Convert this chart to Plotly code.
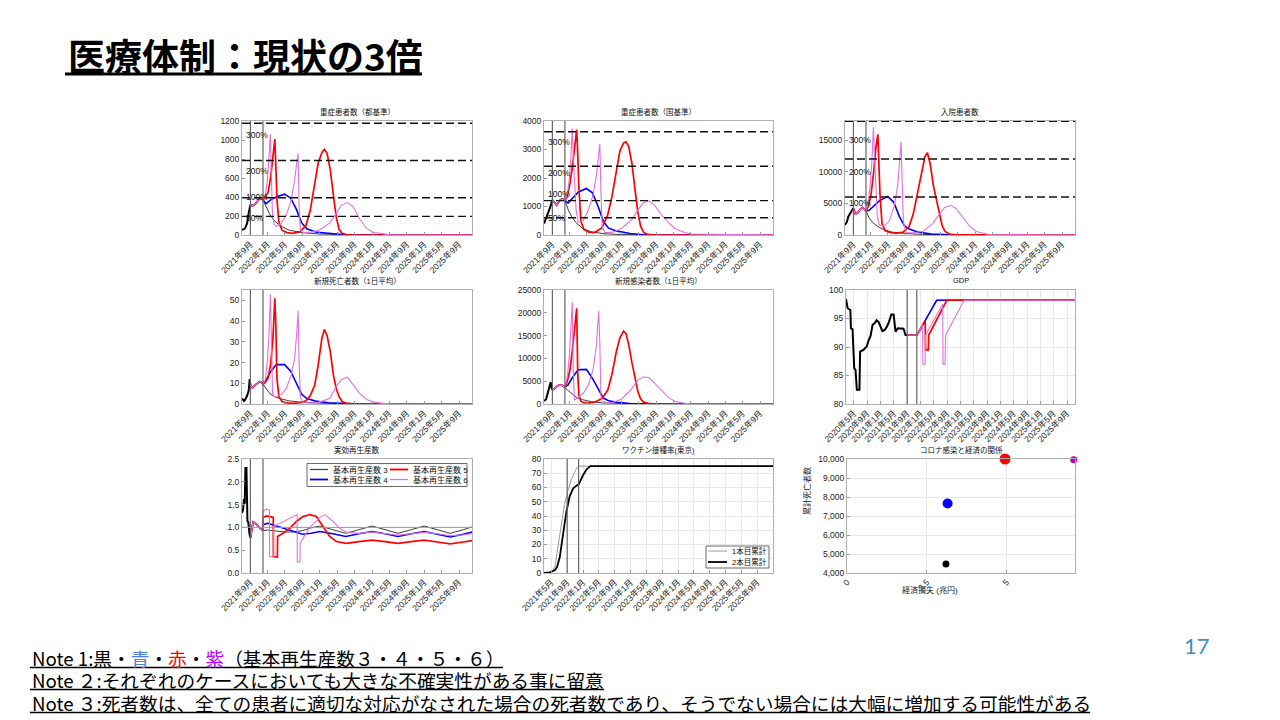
import plotly.graph_objects as go

W, H = 1280, 720
FONT = "Liberation Sans, Noto Sans CJK JP, sans-serif"
JP = "Noto Sans CJK JP, sans-serif"

# ---------------- tick labels ----------------
MAIN_TICK_DATES = ["2021-09-01", "2022-01-01", "2022-05-01", "2022-09-01", "2023-01-01", "2023-05-01",
                   "2023-09-01", "2024-01-01", "2024-05-01", "2024-09-01", "2025-01-01", "2025-05-01", "2025-09-01"]
MAIN_TICK_TEXT = ["2021年9月", "2022年1月", "2022年5月", "2022年9月", "2023年1月", "2023年5月",
                  "2023年9月", "2024年1月", "2024年5月", "2024年9月", "2025年1月", "2025年5月", "2025年9月"]
GDP_TICK_DATES = ["2020-05-01", "2020-09-01", "2021-01-01", "2021-05-01", "2021-09-01", "2022-01-01",
                  "2022-05-01", "2022-09-01", "2023-01-01", "2023-05-01", "2023-09-01", "2024-01-01",
                  "2024-05-01", "2024-09-01", "2025-01-01", "2025-05-01", "2025-09-01"]
GDP_TICK_TEXT = ["2020年5月", "2020年9月", "2021年1月", "2021年5月", "2021年9月", "2022年1月",
                 "2022年5月", "2022年9月", "2023年1月", "2023年5月", "2023年9月", "2024年1月",
                 "2024年5月", "2024年9月", "2025年1月", "2025年5月", "2025年9月"]
VAC_TICK_DATES = ["2021-05-01", "2021-09-01", "2022-01-01", "2022-05-01", "2022-09-01", "2023-01-01",
                  "2023-05-01", "2023-09-01", "2024-01-01", "2024-05-01", "2024-09-01", "2025-01-01",
                  "2025-05-01", "2025-09-01"]
VAC_TICK_TEXT = ["2021年5月", "2021年9月", "2022年1月", "2022年5月", "2022年9月", "2023年1月",
                 "2023年5月", "2023年9月", "2024年1月", "2024年5月", "2024年9月", "2025年1月",
                 "2025年5月", "2025年9月"]

SERIES_NAMES = ["基本再生産数 3", "基本再生産数 4", "基本再生産数 5", "基本再生産数 6"]
VLINE_DATES = ["2021-09-01", "2021-11-28"]

# ---------------- epidemic curves: dates ----------------
HIST_DATES = ["2021-07-04", "2021-07-18", "2021-07-27", "2021-08-09", "2021-08-20", "2021-08-27", "2021-09-01"]
COMMON_DATES = ["2021-09-01", "2021-09-15", "2021-10-01", "2021-10-20", "2021-11-05", "2021-11-18", "2021-11-28"]
R3_DATES = ["2021-11-28", "2021-12-20", "2022-01-15", "2022-02-15", "2022-04-01", "2022-06-01", "2022-09-01",
            "2023-01-01", "2023-06-01", "2024-01-01", "2025-12-31"]
R4_DATES = ["2021-11-28", "2021-12-20", "2022-01-20", "2022-03-01", "2022-04-28", "2022-06-10", "2022-07-20",
            "2022-08-25", "2022-10-01", "2022-12-01", "2023-03-01", "2023-06-01", "2023-09-01", "2025-12-31"]
R5_DATES = ["2021-11-28", "2021-12-15", "2022-01-03", "2022-01-20", "2022-02-05", "2022-02-19", "2022-02-26",
            "2022-03-06", "2022-03-20", "2022-04-10", "2022-05-15", "2022-06-25", "2022-08-15", "2022-09-25",
            "2022-10-25", "2022-11-25", "2022-12-20", "2023-01-15", "2023-02-01", "2023-02-20", "2023-03-15",
            "2023-04-05", "2023-04-25", "2023-05-15", "2023-06-05", "2023-07-05", "2023-08-15", "2025-12-31"]
R6_DATES = ["2021-11-28", "2021-12-15", "2021-12-28", "2022-01-08", "2022-01-19", "2022-01-27", "2022-02-03",
            "2022-02-15", "2022-03-01", "2022-04-05", "2022-05-10", "2022-06-14", "2022-07-08", "2022-07-24",
            "2022-08-01", "2022-08-08", "2022-08-17", "2022-09-05", "2022-11-01", "2023-01-01", "2023-03-10",
            "2023-04-26", "2023-06-01", "2023-07-13", "2023-08-21", "2023-10-07", "2023-11-24", "2024-01-10",
            "2024-03-19", "2024-05-05", "2025-12-31"]

# 重症患者数（都基準）
SEV_T_HIST = [55, 62, 75, 125, 230, 280, 318]
SEV_T_COMMON = [318, 308, 320, 360, 385, 378, 370]
SEV_T_R3 = [370, 300, 215, 150, 95, 50, 25, 10, 3, 0, 0]
SEV_T_R4 = [370, 330, 370, 400, 430, 390, 270, 130, 65, 32, 15, 5, 1, 0]
SEV_T_R5 = [370, 400, 450, 600, 820, 1010, 720, 370, 130, 50, 25, 18, 35, 100, 260, 540, 760, 870, 900, 860,
            680, 420, 190, 60, 18, 5, 0, 0]
SEV_T_R6 = [370, 430, 560, 800, 1060, 550, 200, 110, 90, 125, 210, 370, 580, 780, 860, 300, 50, 25, 30, 55,
            125, 230, 315, 342, 300, 165, 70, 28, 8, 2, 0]

# 重症患者数（国基準）
SEV_N_HIST = [400, 560, 700, 870, 1020, 1130, 1228]
SEV_N_COMMON = [1228, 1150, 1040, 1200, 1260, 1250, 1220]
SEV_N_R3 = [1220, 900, 640, 430, 230, 110, 45, 15, 4, 0, 0]
SEV_N_R4 = [1220, 1120, 1300, 1500, 1630, 1480, 1000, 480, 240, 135, 50, 10, 2, 0]
SEV_N_R5 = [1220, 1350, 1820, 2400, 3100, 3700, 2900, 1700, 500, 200, 100, 85, 250, 700, 1350, 2300, 2950,
            3230, 3270, 3100, 2500, 1600, 800, 300, 90, 20, 0, 0]
SEV_N_R6 = [1220, 1450, 1900, 2600, 3740, 2600, 1800, 880, 450, 500, 850, 1400, 2100, 2900, 3200, 1600, 300,
            85, 100, 230, 520, 880, 1120, 1200, 1050, 720, 450, 230, 90, 35, 0]

# 入院患者数
HOSP_HIST = [1580, 2100, 2900, 3500, 3950, 4100, 4210]
HOSP_COMMON = [4210, 3300, 3500, 4100, 4350, 4100, 3800]
HOSP_R3 = [3800, 2700, 1950, 1400, 850, 450, 230, 90, 25, 0, 0]
HOSP_R4 = [3800, 3900, 4500, 5400, 6100, 5200, 2900, 1450, 900, 450, 150, 40, 5, 0]
HOSP_R5 = [3800, 4600, 6500, 9800, 13800, 15900, 12000, 6500, 1800, 700, 400, 270, 450, 1300, 3300, 6800,
           9500, 12400, 13000, 11300, 7800, 5500, 3200, 1500, 550, 150, 10, 0]
HOSP_R6 = [3800, 5500, 8000, 11500, 17000, 12500, 9500, 3000, 1600, 1400, 2200, 4600, 7800, 13000, 14700,
           8500, 2000, 370, 350, 600, 1800, 3300, 4300, 4680, 4200, 2800, 1400, 550, 150, 40, 0]

# 新規死亡者数（1日平均）
DEATH_HIST = [2.7, 1.5, 2.2, 4, 6.5, 12, 9.5]
DEATH_COMMON = [9.5, 7.8, 9, 10.2, 10.8, 10.5, 9.5]
DEATH_R3 = [9.5, 7, 5, 3.6, 2.5, 1.5, 0.8, 0.4, 0.1, 0, 0]
DEATH_R4 = [9.5, 11.5, 15.5, 19, 19, 15.8, 10, 4.8, 2.6, 1.4, 0.6, 0.25, 0.05, 0]
DEATH_R5 = [9.5, 10.5, 12.5, 19, 31, 51, 38, 12, 3.5, 1.2, 0.5, 0.3, 0.6, 1.5, 4, 9, 19, 32, 36, 33, 25, 14,
            7.5, 3.5, 1.2, 0.3, 0.05, 0]
DEATH_R6 = [9.5, 12, 20, 32, 53, 28, 5, 3.5, 3.5, 4.5, 7.5, 14, 22, 36, 45, 20, 3, 0.7, 0.5, 0.9, 2.8, 8.5,
            11.8, 12.9, 9.5, 5, 2.2, 0.9, 0.3, 0.1, 0]

# 新規感染者数（1日平均）
CASE_HIST = [650, 1000, 2000, 3900, 4800, 3500, 3070]
CASE_COMMON = [3070, 3300, 3800, 4200, 4150, 3800, 3700]
CASE_R3 = [3700, 2900, 2200, 1500, 950, 500, 220, 80, 20, 0, 0]
CASE_R4 = [3700, 4200, 5800, 7500, 7600, 5600, 3200, 1300, 700, 350, 120, 30, 5, 0]
CASE_R5 = [3700, 5000, 7500, 12000, 17500, 21000, 7000, 2000, 600, 280, 220, 400, 1200, 3000, 6500, 11500,
           14500, 16000, 15500, 13000, 9000, 5500, 2800, 1100, 400, 150, 20, 0]
CASE_R6 = [3700, 6000, 10000, 16000, 22300, 6000, 900, 1100, 1500, 2300, 4000, 7500, 13000, 20400, 13000,
           2000, 300, 150, 350, 1100, 3200, 5300, 5900, 5800, 4600, 3000, 1500, 600, 150, 40, 0]

# bed capacity reference lines
SEV_T_LEVELS = [196, 392, 784, 1176]
SEV_N_LEVELS = [604, 1207, 2414, 3621]
HOSP_LEVELS = [6000, 12000, 17950]
SEV_T_LABELS = [("300%", 1050), ("200%", 670), ("100%", 405), ("50%", 183)]
SEV_N_LABELS = [("300%", 3250), ("200%", 2165), ("100%", 1430), ("50%", 608)]
HOSP_LABELS = [("300%", 15000), ("200%", 10000), ("100%", 5100)]

# GDP
GDP_HIST_DATES = ["2020-02-20", "2020-03-06", "2020-03-31", "2020-04-05", "2020-04-20", "2020-05-05",
                  "2020-05-17", "2020-05-29", "2020-06-22", "2020-06-28", "2020-07-28", "2020-08-27",
                  "2020-09-11", "2020-10-02", "2020-10-20", "2020-11-10", "2020-11-25", "2020-12-13",
                  "2020-12-25", "2021-01-18", "2021-02-08", "2021-03-01", "2021-03-19", "2021-04-09",
                  "2021-04-30", "2021-05-18", "2021-06-08", "2021-07-30", "2021-08-17", "2021-09-01"]
GDP_HIST = [98.4, 96.8, 96.5, 93.3, 93.1, 86.3, 86.0, 82.5, 82.5, 89.2, 89.5, 90.1, 91.0, 92.0, 93.9, 94.2,
            94.7, 94.4, 93.9, 92.8, 93.0, 93.6, 94.4, 95.7, 95.7, 92.7, 93.3, 93.2, 92.1, 92.1]
GDP_COMMON_DATES = ["2021-09-01", "2021-11-29"]
GDP_COMMON = [92.1, 92.1]
GDP_R3_DATES = ["2021-11-29", "2022-05-29", "2025-11-13"]
GDP_R3 = [92.1, 98.2, 98.2]
GDP_R4_DATES = ["2021-11-29", "2022-05-29", "2025-11-13"]
GDP_R4 = [92.1, 98.2, 98.2]
GDP_R5_DATES = ["2021-11-29", "2022-02-13", "2022-02-16", "2022-03-13", "2022-03-17", "2022-08-29", "2025-11-13"]
GDP_R5 = [92.1, 94.6, 89.5, 89.5, 92.1, 98.2, 98.2]
GDP_R6_DATES = ["2021-11-29", "2022-01-20", "2022-01-22", "2022-02-12", "2022-02-16", "2022-07-23",
                "2022-07-26", "2022-08-13", "2022-08-18", "2023-02-04", "2025-11-13"]
GDP_R6 = [92.1, 93.9, 87.0, 87.0, 92.1, 97.5, 87.0, 87.0, 92.1, 98.2, 98.2]

# 実効再生産数
RT_HIST_DATES = ["2021-07-04", "2021-07-11", "2021-07-18", "2021-07-23", "2021-07-28", "2021-08-04",
                 "2021-08-11", "2021-08-18", "2021-08-25", "2021-09-01"]
RT_HIST = [1.32, 1.38, 1.62, 1.52, 2.3, 2.3, 1.15, 1.1, 0.87, 0.77]
RT_COMMON_DATES = ["2021-09-01", "2021-09-12", "2021-09-20", "2021-10-10", "2021-11-01", "2021-11-28"]
RT_COMMON = [0.77, 1.0, 1.12, 1.08, 1.0, 0.93]
RT_SEASON_DATES = ["2021-11-28", "2022-01-01", "2022-03-01", "2022-05-01", "2022-07-01", "2022-09-01",
                   "2022-11-01", "2023-01-01", "2023-04-01", "2023-07-01", "2023-10-01", "2024-01-01",
                   "2024-04-01", "2024-07-01", "2024-10-01", "2025-01-01", "2025-04-01", "2025-07-01",
                   "2025-10-01", "2025-12-01"]
RT_R3 = [0.93, 0.94, 0.92, 0.9, 0.9, 0.93, 0.99, 1.03, 0.95, 0.87, 0.95, 1.03, 0.95, 0.87, 0.95, 1.03, 0.95,
         0.87, 0.95, 1.01]
RT_R4 = [1.06, 1.09, 1.03, 0.98, 0.92, 0.85, 0.87, 0.91, 0.86, 0.8, 0.86, 0.91, 0.86, 0.8, 0.86, 0.91, 0.85,
         0.79, 0.85, 0.9]
RT_R5_DATES = ["2021-11-28", "2021-12-25", "2022-01-25", "2022-02-08", "2022-02-09", "2022-03-09", "2022-03-10",
               "2022-04-17", "2022-06-03", "2022-07-20", "2022-09-05", "2022-10-22", "2022-12-07", "2023-01-24",
               "2023-03-10", "2023-04-26", "2023-07-05", "2023-10-01", "2024-01-01", "2024-04-01", "2024-07-01",
               "2024-10-01", "2025-01-01", "2025-04-01", "2025-07-01", "2025-10-01", "2025-12-01"]
RT_R5 = [1.22, 1.25, 1.23, 1.22, 0.36, 0.35, 0.8, 0.87, 0.98, 1.13, 1.24, 1.28, 1.24, 1.02, 0.8, 0.69, 0.65,
         0.69, 0.72, 0.69, 0.65, 0.69, 0.72, 0.68, 0.64, 0.68, 0.71]
RT_R6_DATES = ["2021-11-28", "2021-12-21", "2022-01-12", "2022-01-13", "2022-02-08", "2022-02-09", "2022-04-15",
               "2022-07-25", "2022-07-26", "2022-08-14", "2022-08-15", "2022-10-22", "2023-01-01", "2023-02-06",
               "2023-04-03", "2023-05-19", "2023-07-05", "2023-10-01", "2024-01-01", "2024-04-01", "2024-07-01",
               "2024-10-01", "2025-01-01", "2025-04-01", "2025-07-01", "2025-10-01", "2025-12-01"]
RT_R6 = [1.35, 1.4, 1.38, 0.36, 0.35, 1.02, 1.12, 1.28, 0.24, 0.24, 0.66, 1.0, 1.22, 1.28, 1.13, 0.98, 0.9,
         0.87, 0.9, 0.86, 0.83, 0.86, 0.89, 0.86, 0.82, 0.84, 0.86]

# ワクチン接種率(東京)
VAC1_DATES = ["2021-03-07", "2021-04-25", "2021-05-15", "2021-05-29", "2021-06-22", "2021-07-17", "2021-08-11",
              "2021-09-08", "2021-10-04", "2021-10-29", "2021-11-16", "2021-11-30", "2025-12-31"]
VAC1 = [0, 0.5, 2, 4.2, 18, 35, 48, 58, 66, 71, 74, 75, 75]
VAC2_DATES = ["2021-03-07", "2021-04-20", "2021-05-29", "2021-06-15", "2021-07-06", "2021-07-31", "2021-08-26",
              "2021-09-21", "2021-10-17", "2021-11-12", "2021-11-30", "2022-01-02", "2022-01-28", "2022-02-27",
              "2025-12-31"]
VAC2 = [0, 0.5, 1.9, 4.2, 11, 26.5, 43, 54, 59.4, 61.3, 62.4, 68.8, 72.8, 75, 75]
VAC_NAMES = ["1本目累計", "2本目累計"]

# コロナ感染と経済の関係
ECON_LOSS = [3.1, 3.15, 4.95, 7.1]
CUM_DEATHS = [4480, 7660, 10000, 9960]

TITLES = ["重症患者数（都基準）", "重症患者数（国基準）", "入院患者数", "新規死亡者数（1日平均）",
          "新規感染者数（1日平均）", "GDP", "実効再生産数", "ワクチン接種率(東京)", "コロナ感染と経済の関係"]

# ---------------- styling ----------------
C_HIST = "#000000"
COLORS = ["#3c3c3c", "#0000ff", "#ff0000", "#e070e0"]
WIDTHS = [1.0, 1.6, 1.7, 1.1]
DOM = {1: (242, 472, 121, 235), 2: (544, 773, 121, 235), 3: (845, 1075, 121, 235),
       4: (242, 472, 290, 404), 5: (544, 773, 290, 404), 6: (846, 1075, 290, 404),
       7: (242, 472, 459, 573), 8: (544, 773, 459, 573), 9: (847, 1075, 459, 573)}
MAIN_RANGE = ["2021-07-04", "2025-12-01"]
GDP_RANGE = ["2020-02-20", "2025-11-13"]
VAC_RANGE = ["2021-03-07", "2025-12-31"]

fig = go.Figure()


def names(i):
    return ("x" if i == 1 else f"x{i}", "y" if i == 1 else f"y{i}")


def add_line(i, x, y, color, width, name):
    xa, ya = names(i)
    fig.add_trace(go.Scatter(x=x, y=y, mode="lines", name=name, line=dict(color=color, width=width),
                             xaxis=xa, yaxis=ya, showlegend=False))


def add_scenarios(i, hist_d, hist, com_d, com, scen):
    add_line(i, hist_d, hist, C_HIST, 2.0, "実績")
    for k, (d, v) in enumerate(scen):
        add_line(i, com_d + d, com + v, COLORS[k], WIDTHS[k], SERIES_NAMES[k])


add_scenarios(1, HIST_DATES, SEV_T_HIST, COMMON_DATES, SEV_T_COMMON,
              [(R3_DATES, SEV_T_R3), (R4_DATES, SEV_T_R4), (R5_DATES, SEV_T_R5), (R6_DATES, SEV_T_R6)])
add_scenarios(2, HIST_DATES, SEV_N_HIST, COMMON_DATES, SEV_N_COMMON,
              [(R3_DATES, SEV_N_R3), (R4_DATES, SEV_N_R4), (R5_DATES, SEV_N_R5), (R6_DATES, SEV_N_R6)])
add_scenarios(3, HIST_DATES, HOSP_HIST, COMMON_DATES, HOSP_COMMON,
              [(R3_DATES, HOSP_R3), (R4_DATES, HOSP_R4), (R5_DATES, HOSP_R5), (R6_DATES, HOSP_R6)])
add_scenarios(4, HIST_DATES, DEATH_HIST, COMMON_DATES, DEATH_COMMON,
              [(R3_DATES, DEATH_R3), (R4_DATES, DEATH_R4), (R5_DATES, DEATH_R5), (R6_DATES, DEATH_R6)])
add_scenarios(5, HIST_DATES, CASE_HIST, COMMON_DATES, CASE_COMMON,
              [(R3_DATES, CASE_R3), (R4_DATES, CASE_R4), (R5_DATES, CASE_R5), (R6_DATES, CASE_R6)])
add_scenarios(6, GDP_HIST_DATES, GDP_HIST, GDP_COMMON_DATES, GDP_COMMON,
              [(GDP_R3_DATES, GDP_R3), (GDP_R4_DATES, GDP_R4), (GDP_R5_DATES, GDP_R5), (GDP_R6_DATES, GDP_R6)])
add_scenarios(7, RT_HIST_DATES, RT_HIST, RT_COMMON_DATES, RT_COMMON,
              [(RT_SEASON_DATES, RT_R3), (RT_SEASON_DATES, RT_R4), (RT_R5_DATES, RT_R5), (RT_R6_DATES, RT_R6)])

add_line(8, VAC1_DATES, VAC1, "#9a9a9a", 1.0, VAC_NAMES[0])
add_line(8, VAC2_DATES, VAC2, "#000000", 1.8, VAC_NAMES[1])

fig.add_trace(go.Scatter(x=ECON_LOSS, y=CUM_DEATHS, mode="markers", name="累計死亡者数",
                         marker=dict(color=["#000000", "#0000ff", "#ff0000", "#c000c0"], size=[7, 10, 11, 7],
                                     opacity=1, line=dict(width=0)),
                         cliponaxis=False, xaxis="x9", yaxis="y9", showlegend=False))

# ---------------- axes ----------------
layout = {}
AX_COMMON = dict(ticks="inside", ticklen=3, tickcolor="#999", showline=True, linecolor="#b0b0b0",
                 linewidth=1, mirror=True, zeroline=False, gridcolor="#e8e8e8", automargin=False)


def set_x(i, rng, tv, tt, grid=False, typ="date", angle=-45):
    l, r, t, b = DOM[i]
    key = "xaxis" if i == 1 else f"xaxis{i}"
    layout[key] = dict(domain=[l / W, r / W], anchor=names(i)[1], type=typ, range=rng, tickmode="array",
                       tickvals=tv, ticktext=tt, tickangle=angle, tickfont=dict(size=8.5, color="#222"),
                       showgrid=grid, **AX_COMMON)


def set_y(i, rng, tv, grid=False, fmt="d"):
    l, r, t, b = DOM[i]
    key = "yaxis" if i == 1 else f"yaxis{i}"
    layout[key] = dict(domain=[1 - b / H, 1 - t / H], anchor=names(i)[0], range=rng, tickmode="array",
                       tickvals=tv, tickformat=fmt, tickfont=dict(size=8.5, color="#222"), showgrid=grid,
                       **AX_COMMON)


for i in (1, 2, 3, 4, 5, 7):
    set_x(i, MAIN_RANGE, MAIN_TICK_DATES, MAIN_TICK_TEXT)
set_x(6, GDP_RANGE, GDP_TICK_DATES, GDP_TICK_TEXT, grid=True)
set_x(8, VAC_RANGE, VAC_TICK_DATES, VAC_TICK_TEXT, grid=True)
set_x(9, [0, 7.14], [0, 2.5, 5], ["0", "2.5", "5"], grid=True, typ="linear")

set_y(1, [0, 1200], [0, 200, 400, 600, 800, 1000, 1200])
set_y(2, [0, 4000], [0, 1000, 2000, 3000, 4000])
set_y(3, [0, 18000], [0, 5000, 10000, 15000])
set_y(4, [0, 55], [0, 10, 20, 30, 40, 50])
set_y(5, [0, 25000], [0, 5000, 10000, 15000, 20000, 25000])
set_y(6, [80, 100], [80, 85, 90, 95, 100], grid=True)
set_y(7, [0, 2.5], [0, 0.5, 1, 1.5, 2, 2.5], fmt=".1f")
set_y(8, [0, 80], [0, 10, 20, 30, 40, 50, 60, 70, 80], grid=True)
set_y(9, [4000, 10000], [4000, 5000, 6000, 7000, 8000, 9000, 10000], grid=True, fmt=",d")

shapes = []
ann = []

# vertical markers
for i in (1, 2, 3, 4, 5, 6, 7, 8):
    xa, ya = names(i)
    for d in VLINE_DATES:
        shapes.append(dict(type="line", xref=xa, yref=f"{ya} domain", x0=d, x1=d, y0=0, y1=1,
                           line=dict(color="#666", width=1.2)))

# capacity dashed lines + labels
for i, levels, labels in ((1, SEV_T_LEVELS, SEV_T_LABELS), (2, SEV_N_LEVELS, SEV_N_LABELS),
                          (3, HOSP_LEVELS, HOSP_LABELS)):
    xa, ya = names(i)
    for lv in levels:
        shapes.append(dict(type="line", xref=f"{xa} domain", yref=ya, x0=0, x1=1, y0=lv, y1=lv,
                           line=dict(color="#111", width=1.4, dash="8px,4px")))
    for txt, yv in labels:
        ann.append(dict(text=txt, xref=f"{xa} domain", yref=ya, x=0.01, y=yv, xanchor="left",
                        yanchor="middle", showarrow=False, font=dict(size=8.5, color="#111", family=FONT)))

# Rt reference line at 1.0
shapes.append(dict(type="line", xref="x7 domain", yref="y7", x0=0, x1=1, y0=1, y1=1,
                   line=dict(color="#9a9a9a", width=1)))

# subplot titles
for i, t in enumerate(TITLES, start=1):
    l, r, top, b = DOM[i]
    ann.append(dict(text=t, xref="paper", yref="paper", x=(l + r) / 2 / W, y=1 - (top - 9) / H,
                    xanchor="center", yanchor="middle", showarrow=False,
                    font=dict(size=7.5, color="#111", family=FONT)))

# scatter axis titles
ann.append(dict(text="累計死亡者数", xref="paper", yref="paper", x=807 / W, y=1 - 517 / H, textangle=-90,
                showarrow=False, font=dict(size=8, color="#222", family=FONT)))
ann.append(dict(text="経済損失 (兆円)", xref="paper", yref="paper", x=960 / W, y=1 - 597 / H,
                showarrow=False, font=dict(size=8, color="#222", family=FONT)))

# Rt legend (drawn inside panel 7)
shapes.append(dict(type="rect", xref="paper", yref="paper", x0=307 / W, x1=467 / W, y0=1 - 486.5 / H,
                   y1=1 - 463.5 / H, line=dict(color="#444", width=0.8), fillcolor="white", layer="above"))
leg_pos = [(310, 469.5), (310, 479.5), (390, 469.5), (390, 479.5)]
for k, (lx, ly) in enumerate(leg_pos):
    shapes.append(dict(type="line", xref="paper", yref="paper", x0=lx / W, x1=(lx + 18) / W, y0=1 - ly / H,
                       y1=1 - ly / H, line=dict(color=COLORS[k], width=WIDTHS[k] + 0.2), layer="above"))
    ann.append(dict(text=SERIES_NAMES[k], xref="paper", yref="paper", x=(lx + 21) / W, y=1 - ly / H,
                    xanchor="left", yanchor="middle", showarrow=False,
                    font=dict(size=8, color="#111", family=FONT)))

# vaccine legend
shapes.append(dict(type="rect", xref="paper", yref="paper", x0=706 / W, x1=769 / W, y0=1 - 568 / H,
                   y1=1 - 546 / H, line=dict(color="#444", width=0.8), fillcolor="white", layer="above"))
for k, (ly, col, wd) in enumerate(((551, "#9a9a9a", 1.0), (562, "#000000", 1.8))):
    shapes.append(dict(type="line", xref="paper", yref="paper", x0=708 / W, x1=727 / W, y0=1 - ly / H,
                       y1=1 - ly / H, line=dict(color=col, width=wd), layer="above"))
    ann.append(dict(text=VAC_NAMES[k], xref="paper", yref="paper", x=730 / W, y=1 - ly / H, xanchor="left",
                    yanchor="middle", showarrow=False, font=dict(size=7.5, color="#111", family=FONT)))

# slide title
ann.append(dict(text="<b>医療体制：現状の3倍</b>", xref="paper", yref="paper", x=66 / W, y=1 - 55 / H,
                xanchor="left", yanchor="middle", showarrow=False, font=dict(size=37, color="#000", family=JP)))
shapes.append(dict(type="line", xref="paper", yref="paper", x0=65 / W, x1=422 / W, y0=1 - 74 / H,
                   y1=1 - 74 / H, line=dict(color="#000", width=3)))

# notes
NOTES = [
    'Note 1:黒・<span style="color:#4f7fdc">青</span>・<span style="color:#ff0000">赤</span>・'
    '<span style="color:#b400ff">紫</span>（基本再生産数３・４・５・６）',
    "Note ２:それぞれのケースにおいても大きな不確実性がある事に留意",
    "Note ３:死者数は、全ての患者に適切な対応がなされた場合の死者数であり、そうでない場合には大幅に増加する可能性がある",
]
NOTE_Y = [657, 679, 702]
NOTE_END = [503, 604, 1090]
for txt, ny, ne in zip(NOTES, NOTE_Y, NOTE_END):
    ann.append(dict(text=txt, xref="paper", yref="paper", x=30 / W, y=1 - ny / H, xanchor="left",
                    yanchor="middle", showarrow=False, font=dict(size=18.7, color="#000", family=JP)))
    shapes.append(dict(type="line", xref="paper", yref="paper", x0=30 / W, x1=ne / W, y0=1 - (ny + 10.5) / H,
                       y1=1 - (ny + 10.5) / H, line=dict(color="#000", width=1.5)))

ann.append(dict(text="17", xref="paper", yref="paper", x=1197 / W, y=1 - 645 / H, xanchor="center",
                yanchor="middle", showarrow=False, font=dict(size=22, color="#3f8fbf", family="Lato, sans-serif")))

fig.update_layout(width=W, height=H, autosize=False, margin=dict(l=0, r=0, t=0, b=0, autoexpand=False),
                  paper_bgcolor="white", plot_bgcolor="white", font=dict(family=FONT, size=9, color="#222"),
                  showlegend=False, shapes=shapes, annotations=ann, **layout)

fig.write_html("out.html", config={"displayModeBar": False},
               post_script="document.body.style.margin='0';document.body.style.overflow='hidden';")
